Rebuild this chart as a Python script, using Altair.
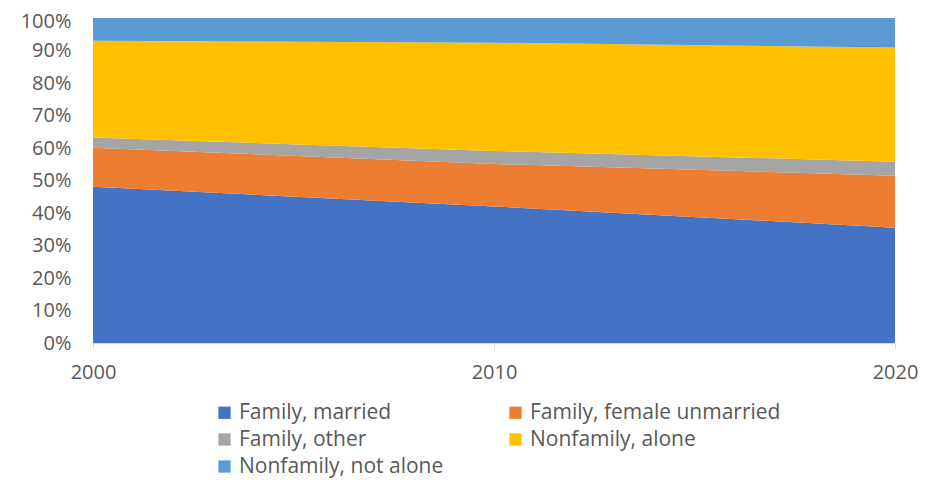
import altair as alt
import pandas as pd

years = [2000, 2010, 2020]
categories = ["Family, married", "Family, female unmarried", "Family, other",
              "Nonfamily, alone", "Nonfamily, not alone"]
married = [48.1, 42.0, 35.5]
female_unmarried = [12.0, 13.1, 16.0]
family_other = [3.1, 4.0, 4.3]
nonfamily_alone = [29.8, 33.3, 35.1]
nonfamily_not_alone = [7.0, 7.6, 9.1]
colors = ["#4472C4", "#ED7D31", "#A5A5A5", "#FFC000", "#5B9BD5"]

series = [married, female_unmarried, family_other, nonfamily_alone, nonfamily_not_alone]
rows = []
for i, (cat, vals) in enumerate(zip(categories, series)):
    for y, v in zip(years, vals):
        rows.append({"year": y, "category": cat, "value": v / 100.0, "order": i})
df = pd.DataFrame(rows)

FONT = "Open Sans"

chart = alt.Chart(df).mark_area(opacity=1).encode(
    x=alt.X("year:Q", scale=alt.Scale(domain=[2000, 2020], nice=False, zero=False),
            axis=alt.Axis(values=years, format="d", title=None, grid=False, labelFlush=False,
                          domain=True, domainColor="#D9D9D9", ticks=True, tickColor="#D9D9D9",
                          tickSize=6, labelFontSize=20, labelColor="#595959", labelFont=FONT,
                          labelPadding=13)),
    y=alt.Y("value:Q", stack="zero", scale=alt.Scale(domain=[0, 1], nice=False),
            axis=alt.Axis(values=[i / 10 for i in range(11)], format=".0%", title=None,
                          grid=False, domain=False, ticks=False, labelFontSize=20,
                          labelOffset={"condition": {"test": "datum.value >= 1", "value": 3},
                                       "value": 0},
                          labelColor="#595959", labelFont=FONT, labelPadding=22)),
    color=alt.Color("category:N", scale=alt.Scale(domain=categories, range=colors),
                    legend=alt.Legend(title=None, orient="none", legendX=121, legendY=384,
                                      direction="horizontal",
                                      columns=2, columnPadding=61, rowPadding=5,
                                      symbolType="square", symbolSize=150, symbolStrokeWidth=0,
                                      labelFontSize=21, labelColor="#595959", labelFont=FONT,
                                      labelLimit=400)),
    order=alt.Order("order:Q", sort="ascending"),
).properties(
    width=802, height=325,
    autosize=alt.AutoSizeParams(type="none"),
    padding={"left": 85, "top": 10, "right": 30, "bottom": 136},
).configure_view(stroke=None)

chart.save("out.html", embed_options={"renderer": "svg", "actions": False})
